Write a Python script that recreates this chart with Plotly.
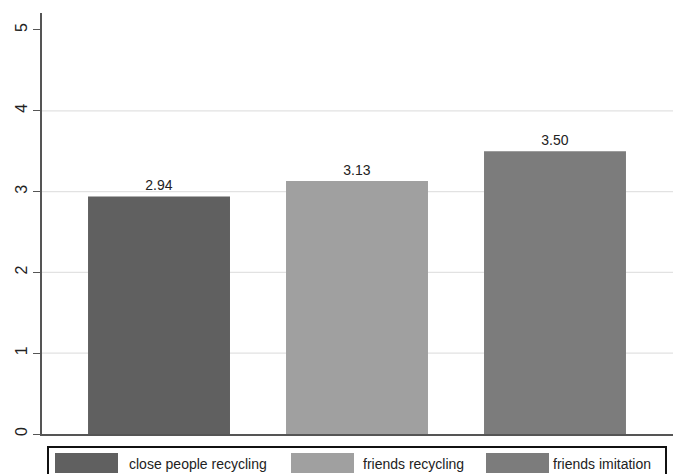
import plotly.graph_objects as go

categories = ["close people recycling", "friends recycling", "friends imitation"]
values = [2.94, 3.13, 3.50]
colors = ["#606060", "#a0a0a0", "#7c7c7c"]
y_ticks = [0, 1, 2, 3, 4, 5]
grid_vals = [1, 2, 3, 4]

W, H = 678, 474
ML, MR, MT, MB = 42, 5, 13, 40
PW, PH = W - ML - MR, H - MT - MB
FONT = "Liberation Sans, Arial"

def px_x(x):
    return (x - ML) / PW

def px_y(y):
    return (H - MB - y) / PH

fig = go.Figure()
fig.add_trace(go.Bar(
    x=categories, y=values,
    marker=dict(color=colors, line=dict(width=0)),
    width=0.717,
    text=[f"{v:.2f}" for v in values],
    textposition="outside",
    textfont=dict(size=14, color="#222222", family=FONT),
    cliponaxis=False,
    showlegend=False,
    hoverinfo="skip",
))

shapes = []
for g in grid_vals:
    shapes.append(dict(type="line", xref="paper", yref="y", x0=0, x1=1, y0=g, y1=g,
                       line=dict(color="#e2e2e2", width=1.2), layer="below"))

# legend box
shapes.append(dict(type="rect", xref="paper", yref="paper",
                   x0=px_x(48), x1=px_x(666), y0=px_y(447), y1=px_y(540),
                   line=dict(color="#111111", width=2), fillcolor="white"))
annotations = []
sw_x = [55, 291, 486]
tx_x = [127, 361, 551]
for i, c in enumerate(categories):
    shapes.append(dict(type="rect", xref="paper", yref="paper",
                       x0=px_x(sw_x[i]), x1=px_x(sw_x[i] + 63),
                       y0=px_y(453), y1=px_y(473),
                       line=dict(width=0), fillcolor=colors[i]))
    annotations.append(dict(xref="paper", yref="paper", x=px_x(tx_x[i]), y=px_y(464),
                            text=c, showarrow=False, xanchor="left", yanchor="middle",
                            font=dict(size=14, color="#222222", family=FONT)))

fig.update_layout(
    width=W, height=H,
    margin=dict(l=ML, r=MR, t=MT, b=MB, autoexpand=False),
    paper_bgcolor="white", plot_bgcolor="white",
    shapes=shapes, annotations=annotations,
    font=dict(family=FONT, color="#222222"),
)
fig.update_xaxes(range=[-0.591, 2.596], showticklabels=False, ticks="",
                 showgrid=False, showline=True, linecolor="#555555", linewidth=1.5,
                 zeroline=False, automargin=False)
fig.update_yaxes(range=[0, 5.21], tickvals=y_ticks, ticktext=[str(t) for t in y_ticks],
                 tickangle=-90, ticks="outside", ticklen=7, tickcolor="#555555",
                 tickwidth=1.2, showgrid=False, showline=True, linecolor="#555555",
                 linewidth=1.5, zeroline=False, automargin=False, ticklabelstandoff=0,
                 tickfont=dict(size=16, color="#222222", family=FONT))

fig.write_html("out.html", config={"displayModeBar": False},
               post_script="document.body.style.margin='0';document.body.style.overflow='hidden';")
